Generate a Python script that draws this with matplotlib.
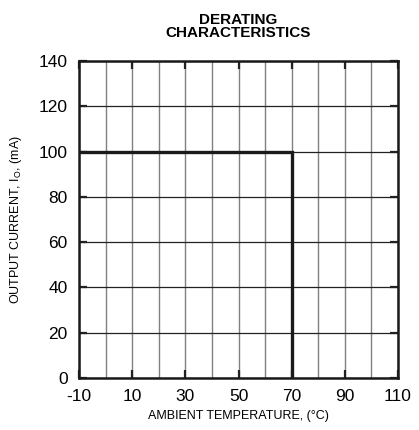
import numpy as np
import matplotlib.pyplot as plt

# derating curve data
temp_c = [-10, 70, 70]
current_ma = [100, 100, 0]
x_ticks = [-10, 10, 30, 50, 70, 90, 110]
y_ticks = [0, 20, 40, 60, 80, 100, 120, 140]
x_grid = list(range(-10, 111, 10))

plt.rcParams['font.family'] = ['Liberation Sans', 'DejaVu Sans']
plt.rcParams['axes.unicode_minus'] = False

fig = plt.figure(figsize=(4.19, 4.30), dpi=100)
ax = fig.add_axes([0.1885, 0.121, 0.7615, 0.737])

# grid: vertical lines grey, horizontal dark
for xv in x_grid:
    ax.axvline(xv, color='#808080', lw=1.0, zorder=1)
for yv in y_ticks:
    ax.axhline(yv, color='#222222', lw=0.9, zorder=1)

ax.plot(temp_c, current_ma, color='#1a1a1a', lw=2.4, solid_capstyle='butt',
        solid_joinstyle='miter', zorder=3)

ax.set_xlim(-10, 110)
ax.set_ylim(0, 140)
ax.set_xticks(x_ticks)
ax.set_yticks(y_ticks)
ax.tick_params(direction='in', length=6, width=1.6, color='#222222',
               top=True, right=True, labelsize=12.5)
ax.tick_params(axis='x', pad=8)
ax.tick_params(axis='y', pad=8)
for sp in ax.spines.values():
    sp.set_linewidth(1.8)
    sp.set_color('#1a1a1a')

ax.set_xlabel('AMBIENT TEMPERATURE, (°C)', fontsize=9, labelpad=4)
ax.set_ylabel('OUTPUT CURRENT, I$_\\mathregular{O}$, (mA)', fontsize=9, labelpad=11)
ax.set_title('DERATING\nCHARACTERISTICS', fontsize=11, fontweight='bold',
             linespacing=0.95, pad=17)

fig.savefig('out.png', dpi=100)
